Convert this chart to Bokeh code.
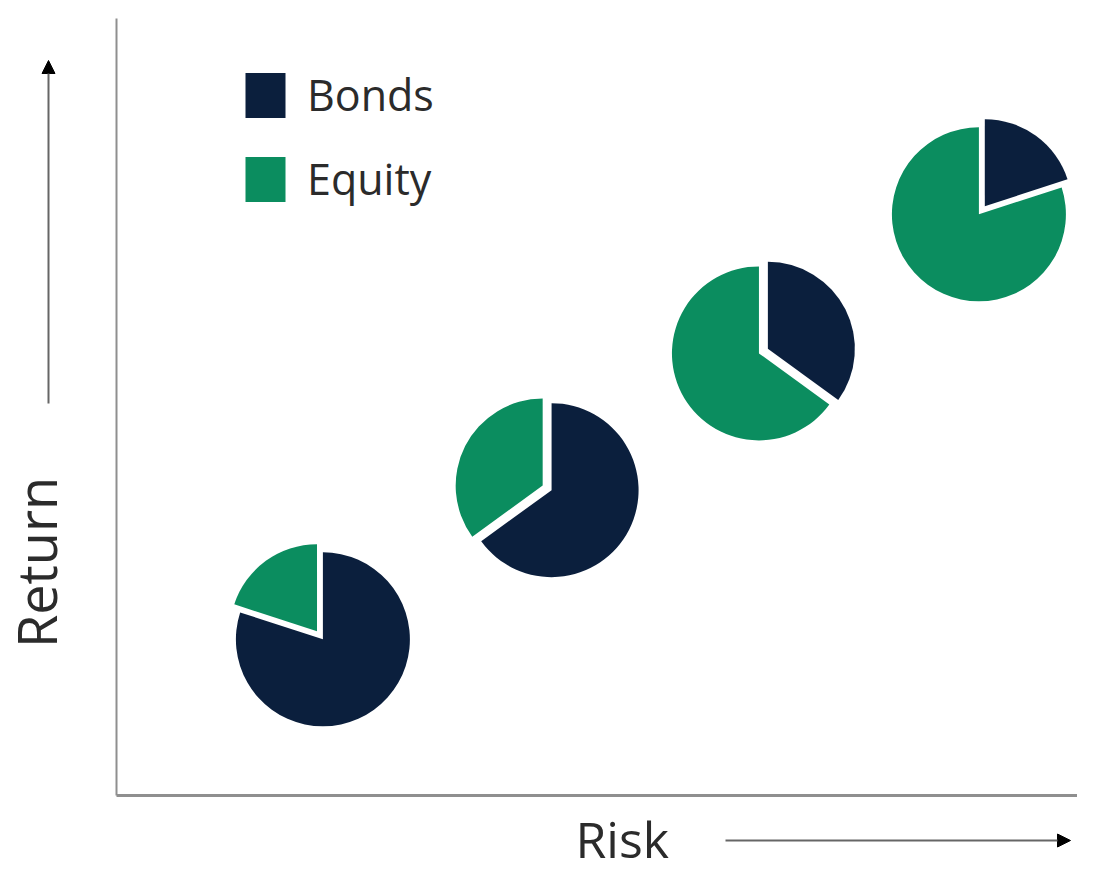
import math
from bokeh.plotting import figure
from bokeh.models import (ColumnDataSource, Range1d, Legend, LegendItem, Label,
                          Arrow, NormalHead)
from bokeh.embed import file_html
from bokeh.resources import INLINE

# ---- data ----
portfolios = ["Conservative", "Moderate", "Growth", "Aggressive"]
risk = [2.13, 4.49, 6.63, 8.90]       # position on the risk axis (0-10)
ret = [2.01, 3.93, 5.69, 7.48]        # position on the return axis (0-10)
bonds = [80, 65, 35, 20]              # % bonds
equity = [20, 35, 65, 80]             # % equity
series = ["Bonds", "Equity"]
axis_titles = ["Risk", "Return"]

# ---- layout / style ----
W, H = 1077, 875
ORIGIN_X, ORIGIN_Y = 116, 80     # px of the axes' origin (from left, from bottom)
X_PX, Y_PX = 96.9, 77.7          # px per data unit
Y_TOP = 10                       # top of the return axis (data)
R = 87          # pie radius, px
EXPLODE = 10    # px offset of the smaller slice
BONDS_C = "#0b1f3d"
EQUITY_C = "#0b8d5f"
FONT = "Open Sans"
TXT = "#2b2b2b"
AX = "#8f8f8f"

x_start, x_end = -ORIGIN_X / X_PX, (W - ORIGIN_X) / X_PX
y_start, y_end = -ORIGIN_Y / Y_PX, (H - ORIGIN_Y) / Y_PX

p = figure(width=W, height=H, x_range=Range1d(x_start, x_end), y_range=Range1d(y_start, y_end),
           output_backend="svg", toolbar_location=None,
           min_border_left=0, min_border_right=0, min_border_top=0, min_border_bottom=0)
p.axis.visible = False
p.grid.visible = False
p.outline_line_color = None
p.background_fill_color = "white"
p.border_fill_color = "white"

# axis lines from the origin
p.add_layout(Arrow(end=None, x_start=0, y_start=0, x_end=0, y_end=Y_TOP,
                   line_color=AX, line_width=2))
p.add_layout(Arrow(end=None, x_start=0, y_start=0, x_end=x_end, y_end=0,
                   line_color=AX, line_width=3))

b = dict(x=[], y=[], s=[], e=[])
q = dict(x=[], y=[], s=[], e=[])
for i in range(len(portfolios)):
    frac_b = bonds[i] / (bonds[i] + equity[i])
    bs, be = math.pi / 2 - 2 * math.pi * frac_b, math.pi / 2
    es, ee = math.pi / 2, math.pi / 2 + 2 * math.pi * (1 - frac_b)
    bx, by, ex, ey = risk[i], ret[i], risk[i], ret[i]
    if bonds[i] < equity[i]:
        m = (bs + be) / 2
        bx += EXPLODE * math.cos(m) / X_PX
        by += EXPLODE * math.sin(m) / Y_PX
    else:
        m = (es + ee) / 2
        ex += EXPLODE * math.cos(m) / X_PX
        ey += EXPLODE * math.sin(m) / Y_PX
    b["x"].append(bx); b["y"].append(by); b["s"].append(bs); b["e"].append(be)
    q["x"].append(ex); q["y"].append(ey); q["s"].append(es); q["e"].append(ee)

rb = p.wedge(x="x", y="y", radius=R, radius_units="screen", start_angle="s", end_angle="e",
             source=ColumnDataSource(b), fill_color=BONDS_C, line_color=None)
rq = p.wedge(x="x", y="y", radius=R, radius_units="screen", start_angle="s", end_angle="e",
             source=ColumnDataSource(q), fill_color=EQUITY_C, line_color=None)

legend = Legend(items=[LegendItem(label=series[0], renderers=[rb]),
                       LegendItem(label=series[1], renderers=[rq])],
                location=(240, 667), glyph_width=50, glyph_height=56, spacing=25,
                padding=0, margin=0, label_standoff=17,
                label_text_font=FONT, label_text_font_size="43px", label_text_color=TXT,
                border_line_color=None, background_fill_alpha=0)
p.add_layout(legend)

p.add_layout(Label(x=35, y=562, x_units="canvas", y_units="canvas", text=axis_titles[1],
                   angle=math.pi / 2, text_align="center", text_baseline="alphabetic",
                   text_font=FONT, text_font_size="54px", text_color=TXT))
p.add_layout(Label(x=575, y=838, x_units="canvas", y_units="canvas", text=axis_titles[0],
                   text_align="left", text_baseline="alphabetic",
                   text_font=FONT, text_font_size="50px", text_color=TXT))

p.add_layout(Arrow(end=NormalHead(size=13, fill_color="black", line_color="black"),
                   x_start=48, y_start=403, x_end=48, y_end=60,
                   start_units="canvas", end_units="canvas", line_color="#666", line_width=2))
p.add_layout(Arrow(end=NormalHead(size=13, fill_color="black", line_color="black"),
                   x_start=725, y_start=840, x_end=1070, y_end=840,
                   start_units="canvas", end_units="canvas", line_color="#666", line_width=2))

open("out.html", "w").write(file_html(p, INLINE))
